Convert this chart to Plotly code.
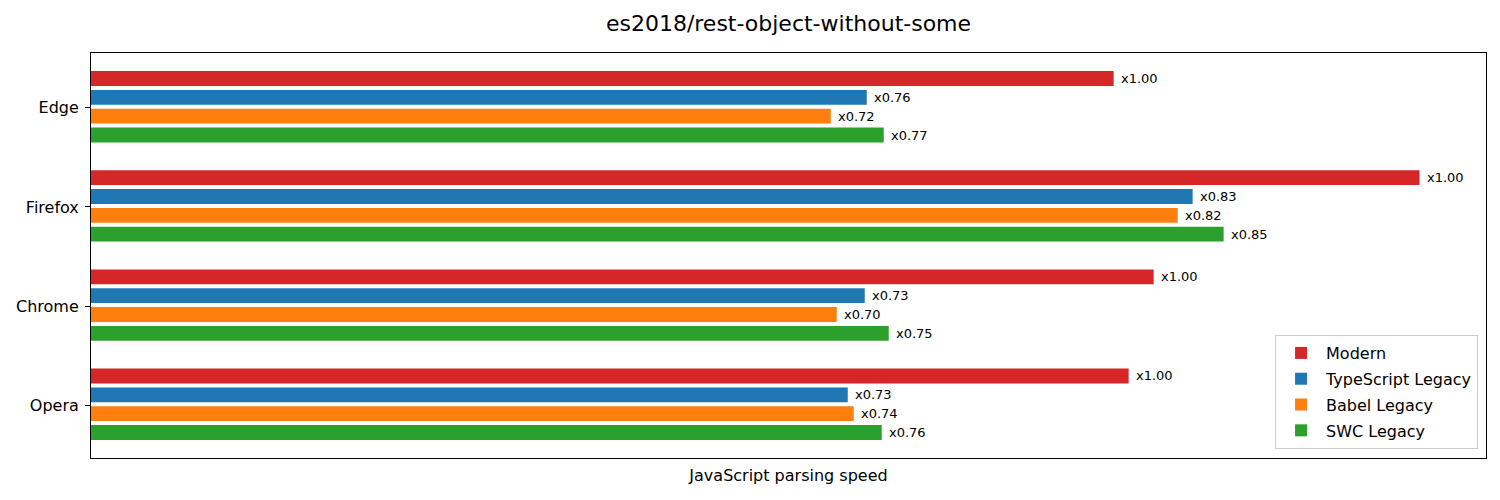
import plotly.graph_objects as go

browsers = ["Edge", "Firefox", "Chrome", "Opera"]
series_names = ["Modern", "TypeScript Legacy", "Babel Legacy", "SWC Legacy"]
# parsing speed (arbitrary units)
modern = [1023, 1329, 1063, 1038]
typescript_legacy = [776, 1102, 774, 757]
babel_legacy = [740, 1087, 746, 763]
swc_legacy = [793, 1133, 798, 791]
# bar labels (ratio to Modern)
modern_labels = ["x1.00", "x1.00", "x1.00", "x1.00"]
typescript_labels = ["x0.76", "x0.83", "x0.73", "x0.73"]
babel_labels = ["x0.72", "x0.82", "x0.70", "x0.74"]
swc_labels = ["x0.77", "x0.85", "x0.75", "x0.76"]

series_values = [modern, typescript_legacy, babel_legacy, swc_legacy]
series_labels = [modern_labels, typescript_labels, babel_labels, swc_labels]
colors = ["#d62728", "#1f77b4", "#ff7f0e", "#2ca02c"]
bar_w = 0.15
centers = [-0.295, -0.105, 0.085, 0.275]

FONT = "DejaVu Sans"
ypos = list(range(len(browsers)))
W, H = 1492, 492

fig = go.Figure()
annotations = []
for i, (name, vals, labs) in enumerate(zip(series_names, series_values, series_labels)):
    fig.add_trace(go.Bar(
        y=ypos, x=vals, orientation="h", name=name,
        width=bar_w, offset=centers[i] - bar_w / 2,
        marker=dict(color=colors[i], line=dict(width=0)),
        legendgroup=name,
    ))
    for j, (v, t) in enumerate(zip(vals, labs)):
        annotations.append(dict(
            x=v, y=ypos[j] + centers[i], xref="x", yref="y",
            text=t, showarrow=False, xanchor="left", yanchor="middle",
            xshift=5, font=dict(family=FONT, size=13, color="black"),
        ))

xmax = max(max(s) for s in series_values) * 1.05

fig.update_layout(
    width=W, height=H, autosize=False,
    margin=dict(l=83, r=14, t=45, b=42),
    paper_bgcolor="white", plot_bgcolor="white",
    barmode="overlay",
    font=dict(family=FONT, size=16, color="black"),
    title=dict(text="es2018/rest-object-without-some", x=(83 + 1478) / 2 / W, xanchor="center",
               y=1 - 15 / H, yanchor="middle", yref="container",
               font=dict(family=FONT, size=22, color="black")),
    xaxis=dict(range=[0, xmax], showticklabels=False, ticks="", showgrid=False,
               zeroline=False, showline=True, mirror=True, linecolor="black", linewidth=1,
               automargin=False,
               title=dict(text="JavaScript parsing speed", standoff=11,
                          font=dict(family=FONT, size=16, color="black"))),
    yaxis=dict(range=[3.532, -0.552], tickvals=ypos, ticktext=browsers,
               ticks="outside", ticklen=5, tickwidth=1, tickcolor="black",
               showgrid=False, zeroline=False, showline=True, mirror=True,
               linecolor="black", linewidth=1, ticklabelstandoff=3, automargin=False,
               tickfont=dict(family=FONT, size=16, color="black")),
    legend=dict(x=0.9943, xanchor="right", y=0.0222, yanchor="bottom",
                bgcolor="rgba(255,255,255,0.8)", bordercolor="#cccccc", borderwidth=1,
                font=dict(family=FONT, size=16, color="black"),
                traceorder="grouped", tracegroupgap=2, itemwidth=40),
    annotations=annotations,
    showlegend=True,
)

fig.write_html("out.html")
